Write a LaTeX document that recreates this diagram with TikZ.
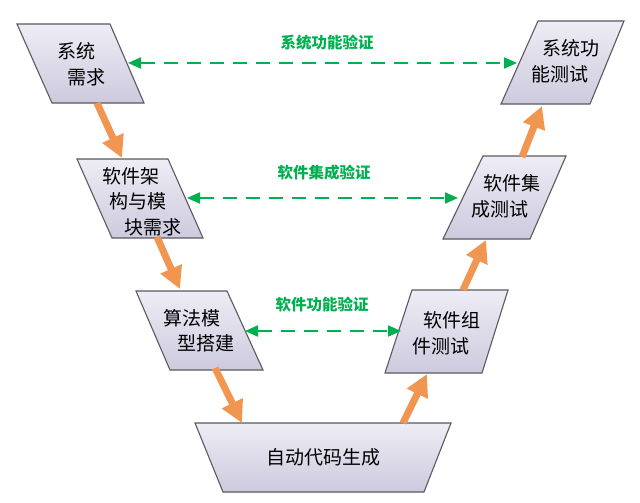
\documentclass[tikz,border=0pt]{standalone}
\usepackage{fontspec}
\newfontfamily\cjk{Noto Sans CJK SC}
\usetikzlibrary{arrows.meta}
\definecolor{boxline}{RGB}{90,90,95}
\definecolor{boxtop}{RGB}{238,236,245}
\definecolor{boxbot}{RGB}{205,202,222}
\definecolor{vgreen}{RGB}{0,176,80}
\definecolor{vorange}{RGB}{240,150,80}
\newcommand\shl[2]{\kern#1pt\relax#2\kern-#1pt\relax}
\tikzset{
  vbox/.style={draw=boxline, line width=1.1pt, top color=boxtop, bottom color=boxbot, line join=miter},
  vtext/.style={font=\cjk\fontsize{19}{25.5}\selectfont, align=center, inner sep=0pt, text=black},
  vlabel/.style={font=\cjk\bfseries\fontsize{15.5}{18}\selectfont, text=vgreen, inner sep=0pt},
  verify/.style={draw=vgreen, line width=2pt, dash pattern=on 14pt off 9pt,
     {Triangle[length=13pt,width=11pt]}-{Triangle[length=13pt,width=11pt]}},
  flow/.style={draw=vorange, line width=7pt, -{Triangle[length=22pt,width=22pt]}, shorten >=0pt}
}
\begin{document}
\begin{tikzpicture}[x=1pt,y=-1pt]
\useasboundingbox (0,0) rectangle (640,503);
\fill[white] (0,0) rectangle (640,503);

% boxes
\path[vbox] (17,24) -- (110,24) -- (144,103) -- (52,103) -- cycle;
\path[vbox] (77,159) -- (168,159) -- (203,238) -- (112,238) -- cycle;
\path[vbox] (136,291) -- (227,291) -- (263,370) -- (170,370) -- cycle;
\path[vbox] (195,423) -- (451,423) -- (424,492) -- (223,492) -- cycle;
\path[vbox] (412,290) -- (508,290) -- (482,373) -- (385,373) -- cycle;
\path[vbox] (483,156) -- (566,156) -- (530,239) -- (443,239) -- cycle;
\path[vbox] (538,21) -- (624,21) -- (590,104) -- (501,104) -- cycle;

% texts
\node[vtext] (sysreq) at (81.5,64.5) {\shl{-5.5}{系统}\\\shl{5.5}{需求}};
\node[vtext] (swarch) at (140.7,201.5) {\shl{-9.7}{软件架}\\\shl{-2.7}{构与模}\\\shl{12.3}{块需求}};
\node[vtext] (algo) at (199,330.5) {\shl{-7}{算法模}\\\shl{7}{型搭建}};
\node[vtext] (codegen) at (323,457) {自动代码生成};
\node[vtext] (comptest) at (446.5,333.5) {\shl{5.5}{软件组}\\\shl{-5.5}{件测试}};
\node[vtext] (inttest) at (506,196.5) {\shl{6}{软件集}\\\shl{-6}{成测试}};
\node[vtext] (systest) at (565.5,61) {\shl{5.5}{系统功}\\\shl{-5.5}{能测试}};

% verification labels
\node[vlabel] (l1) at (327,43) {系统功能验证};
\node[vlabel] (l2) at (324,173) {软件集成验证};
\node[vlabel] (l3) at (322,305) {软件功能验证};

% coordinates for connectors
\coordinate (v1a) at (128,63);  \coordinate (v1b) at (517,63);
\coordinate (v2a) at (187,198); \coordinate (v2b) at (458,198);
\coordinate (v3a) at (245,331); \coordinate (v3b) at (401,331);

\path[verify] (v1a) -- (v1b);
\path[verify] (v2a) -- (v2b);
\path[verify] (v3a) -- (v3b);

\coordinate (f1a) at (97,103);  \coordinate (f1b) at (122,158);
\coordinate (f2a) at (157,237); \coordinate (f2b) at (180,289);
\coordinate (f3a) at (215,368); \coordinate (f3b) at (242,423);
\coordinate (f4a) at (403,423); \coordinate (f4b) at (427,374);
\coordinate (f5a) at (463,290); \coordinate (f5b) at (486,240);
\coordinate (f6a) at (522,157); \coordinate (f6b) at (542,106);

\path[flow] (f1a) -- (f1b);
\path[flow] (f2a) -- (f2b);
\path[flow] (f3a) -- (f3b);
\path[flow] (f4a) -- (f4b);
\path[flow] (f5a) -- (f5b);
\path[flow] (f6a) -- (f6b);
\end{tikzpicture}
\end{document}
